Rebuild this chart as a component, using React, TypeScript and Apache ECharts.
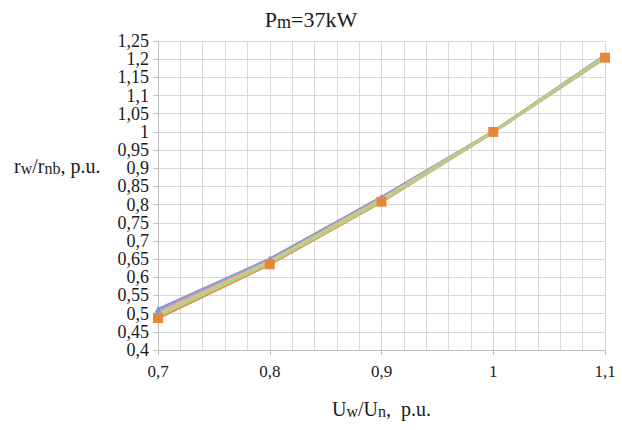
import React, { useEffect, useRef } from "react";
import * as echarts from "echarts";

const xValues = [0.7, 0.8, 0.9, 1.0, 1.1];
const blueValues = [0.512, 0.65, 0.82, 1.0, 1.21];
const purpleValues = [0.508, 0.647, 0.818, 1.0, 1.209];
const pinkValues = [0.504, 0.645, 0.816, 1.0, 1.208];
const grayValues = [0.5, 0.643, 0.814, 1.0, 1.207];
const yellowValues = [0.496, 0.641, 0.812, 1.0, 1.206];
const orangeValues = [0.488, 0.636, 0.808, 1.0, 1.204];
const greenValues = [0.493, 0.639, 0.81, 1.0, 1.205];

const xTickLabels = ["0,7", "0,8", "0,9", "1", "1,1"];
const yTickLabels = [
  "0,4", "0,45", "0,5", "0,55", "0,6", "0,65", "0,7", "0,75", "0,8",
  "0,85", "0,9", "0,95", "1", "1,05", "1,1", "1,15", "1,2", "1,25",
];

const FONT = "Liberation Serif";
const TXT = "#1a1a1a";

const num = (s: string) => parseFloat(s.replace(",", "."));
const pairs = (ys: number[]) => xValues.map((x, i) => [x, ys[i]]);

export default function App() {
  const ref = useRef<HTMLDivElement>(null);
  useEffect(() => {
    const chart = echarts.init(ref.current!, null, { renderer: "svg" });
    const line = (name: string, ys: number[], color: string, extra: any = {}) => ({
      name,
      type: "line",
      data: pairs(ys),
      showSymbol: false,
      symbol: "none",
      lineStyle: { color, width: 3 },
      itemStyle: { color },
      ...extra,
    });
    const yMin = num(yTickLabels[0]);
    const yMax = num(yTickLabels[yTickLabels.length - 1]);
    const xMin = num(xTickLabels[0]);
    const xMax = num(xTickLabels[xTickLabels.length - 1]);
    const yName = {
      type: "text",
      left: 14,
      top: 156,
      style: {
        text: "{a|r}{b|w}{a|/r}{b|nb}{a|, p.u.}",
        rich: {
          a: { fontFamily: FONT, fontSize: 20, fill: TXT },
          b: { fontFamily: FONT, fontSize: 16, fill: TXT, padding: [5, 0, 0, 0] },
        },
      },
    };
    chart.setOption({
      animation: false,
      backgroundColor: "#ffffff",
      textStyle: { fontFamily: FONT, fontWeight: "normal" },
      title: {
        text: "{a|P}{b|m}{a|=37kW}",
        left: "center",
        top: 3,
        textStyle: {
          fontFamily: FONT,
          fontWeight: "normal",
          rich: {
            a: { fontFamily: FONT, fontWeight: "normal", fontSize: 22, color: TXT },
            b: { fontFamily: FONT, fontWeight: "normal", fontSize: 18, color: TXT, padding: [5, 0, 0, 0] },
          },
        },
      },
      grid: { left: 158, right: 17, top: 41, bottom: 80 },
      xAxis: {
        type: "value",
        min: xMin,
        max: xMax,
        interval: 0.1,
        name: "{a|U}{b|w}{a|/U}{b|n}{a|,  p.u.}",
        nameLocation: "middle",
        nameGap: 48,
        nameTextStyle: {
          fontFamily: FONT,
          rich: {
            a: { fontFamily: FONT, fontSize: 20, color: TXT },
            b: { fontFamily: FONT, fontSize: 16, color: TXT, padding: [5, 0, 0, 0] },
          },
        },
        axisLine: { show: true, lineStyle: { color: "#bfbfbf", width: 1 } },
        axisTick: { show: true, length: 5, lineStyle: { color: "#bfbfbf" } },
        axisLabel: { show: false },
        splitLine: { show: true, lineStyle: { color: "#d9d9d9", width: 1 } },
        minorTick: { show: false, splitNumber: 5 },
        minorSplitLine: { show: true, lineStyle: { color: "#d9d9d9", width: 1 } },
      },
      yAxis: {
        type: "value",
        min: yMin,
        max: yMax,
        interval: 0.05,
        axisLine: { show: true, lineStyle: { color: "#bfbfbf", width: 1 } },
        axisTick: { show: true, length: 5, lineStyle: { color: "#bfbfbf" } },
        axisLabel: { show: false },
        splitLine: { show: true, lineStyle: { color: "#d9d9d9", width: 1 } },
      },
      graphic: [yName],
      series: [
        line("blue", blueValues, "#7b9bd6", {
          showSymbol: true,
          symbol: "triangle",
          symbolSize: 7,
        }),
        line("purple", purpleValues, "#a291c6"),
        line("pink", pinkValues, "#dba0a0"),
        line("gray", grayValues, "#bdbdbd"),
        line("yellow", yellowValues, "#ebc86a"),
        line("orange", orangeValues, "#e8873a", {
          showSymbol: true,
          symbol: "rect",
          symbolSize: 10,
        }),
        line("green", greenValues, "#b3cf8c"),
      ],
    });

    const labels: any[] = [];
    yTickLabels.forEach((t) => {
      const p = chart.convertToPixel({ gridIndex: 0 }, [xMin, num(t)]) as number[];
      labels.push({
        type: "text",
        x: p[0] - 9,
        y: p[1],
        style: {
          text: "{t|" + t + "}",
          rich: { t: { fontFamily: FONT, fontSize: 18, fill: TXT } },
          align: "right",
          verticalAlign: "middle",
        },
      });
    });
    xTickLabels.forEach((t) => {
      const p = chart.convertToPixel({ gridIndex: 0 }, [num(t), yMin]) as number[];
      labels.push({
        type: "text",
        x: p[0],
        y: p[1] + 13,
        style: {
          text: "{t|" + t + "}",
          rich: { t: { fontFamily: FONT, fontSize: 17, fill: TXT } },
          align: "center",
          verticalAlign: "top",
        },
      });
    });
    chart.setOption({ graphic: [yName, ...labels] });
    return () => chart.dispose();
  }, []);
  return (
    <div
      ref={ref}
      style={{ position: "fixed", left: 0, top: 0, width: 622, height: 430 }}
    />
  );
}
